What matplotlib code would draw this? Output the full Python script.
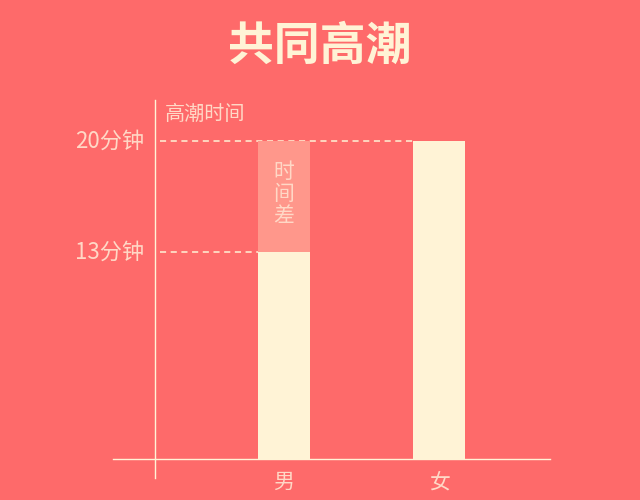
import matplotlib
matplotlib.use("Agg")
import matplotlib.pyplot as plt
from matplotlib.lines import Line2D

plt.rcParams["font.family"] = ["Noto Sans CJK SC", "DejaVu Sans"]

categories = ["男", "女"]
climax_minutes = [13, 20]
tick_values = [13, 20]
tick_labels = ["13分钟", "20分钟"]
title = "共同高潮"
y_label = "高潮时间"
gap_label = "时\n间\n差"

BG = "#FE6A6A"
CREAM = "#FFF3D6"
TEXT = "#FFD8C6"
GAP = "#FF978B"

fig = plt.figure(figsize=(6.4, 5.0), dpi=100, facecolor=BG)
ax = fig.add_axes([155 / 640, 41 / 500, 395 / 640, 359 / 500])
ax.set_facecolor(BG)
ax.set_xlim(-0.832, 1.716)
ax.set_ylim(0, 22.6)

width = 0.335
x = list(range(len(categories)))
ax.bar(x, climax_minutes, width=width, color=CREAM, zorder=2)

# difference segment on top of the shorter bar
low, high = min(climax_minutes), max(climax_minutes)
ax.bar(x[0], high - low, bottom=low, width=width, color=GAP, zorder=2)
ax.text(x[0], (low + high) / 2 + 0.2, gap_label, ha="center", va="center",
        fontsize=15, color=TEXT, linespacing=1.0, fontweight="light", zorder=3)

# dashed guide lines to the bars
ax.hlines(high, -0.8, x[1] - width / 2, colors=CREAM, linestyles=(0, (4, 3)),
          linewidth=1.1, zorder=1)
ax.hlines(low, -0.8, x[0] - width / 2, colors=CREAM, linestyles=(0, (4, 3)),
          linewidth=1.1, zorder=1)

for val, lab in zip(tick_values, tick_labels):
    ax.text(-0.9, val, lab, ha="right", va="center", fontsize=16,
            color=TEXT, fontweight="light")

for xi, cat in zip(x, categories):
    ax.text(xi, -1.45, cat, ha="center", va="center", fontsize=15,
            color=TEXT, fontweight="light")

ax.text(-0.77, 21.7, y_label, ha="left", va="center", fontsize=14.5,
        color=TEXT, fontweight="light")

for s in ax.spines.values():
    s.set_visible(False)
ax.set_xticks([])
ax.set_yticks([])

# axis lines that cross each other
fig.add_artist(Line2D([155 / 640, 155 / 640], [22 / 500, 400 / 500],
                      color=CREAM, linewidth=1))
fig.add_artist(Line2D([113 / 640, 550 / 640], [41 / 500, 41 / 500],
                      color=CREAM, linewidth=1))

fig.text(0.5, 453 / 500, title, ha="center", va="center", fontsize=33,
         fontweight="bold", color=CREAM)

fig.savefig("out.png", dpi=100, facecolor=BG)
